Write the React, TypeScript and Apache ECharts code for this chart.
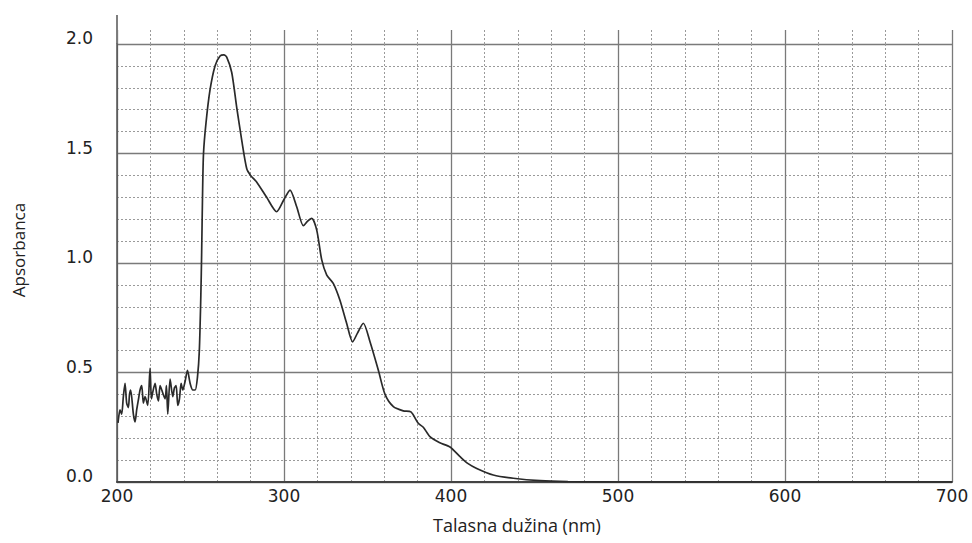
import React, { useEffect, useRef } from "react";
import * as echarts from "echarts";

const wavelengths = [
  200.6, 201.8, 202.8, 203.8, 204.8, 205.8, 206.8, 207.5, 208.2, 209.8, 210.8, 211.8, 212.8, 213.8,
  214.8, 215.8, 216.8, 218.4, 219.8, 220.6, 221.4, 222.8, 223.8, 224.8, 225.8, 226.8, 228.8, 229.6,
  230.4, 231.8, 233.4, 234.4, 235.4, 236.4, 237.4, 238.4, 239.4, 240.8, 242.2, 243.8, 245.4, 246.8,
  248.2, 249.3, 250.2, 250.7, 251.2, 251.8, 253.3, 255.7, 258.7, 261.7, 264, 265.7, 268.7, 271.7,
  274.7, 277.7, 280, 283.6, 289.6, 295.6, 300, 303.6, 307.6, 311.6, 314, 316.6, 319.6, 322.6, 325.6,
  329.5, 333.5, 337.5, 341.1, 344, 347.5, 351.5, 356.5, 360.5, 365.5, 371.4, 376, 380.4, 383.4,
  387.4, 393, 399.4, 405.4, 410, 415.4, 425.3, 437.3, 453.3, 470, 500, 600, 700,
];
const absorbance = [
  0.27, 0.33, 0.31, 0.39, 0.45, 0.36, 0.34, 0.4, 0.42, 0.31, 0.275, 0.33, 0.375, 0.42,
  0.44, 0.36, 0.39, 0.35, 0.52, 0.38, 0.41, 0.45, 0.4, 0.37, 0.44, 0.42, 0.38, 0.44,
  0.31, 0.47, 0.39, 0.43, 0.44, 0.35, 0.38, 0.45, 0.42, 0.46, 0.51, 0.45, 0.42, 0.42,
  0.48, 0.6, 0.85, 1.05, 1.3, 1.5, 1.64, 1.79, 1.9, 1.945, 1.95, 1.94, 1.87, 1.71,
  1.56, 1.43, 1.4, 1.37, 1.3, 1.234, 1.29, 1.333, 1.257, 1.17, 1.19, 1.204, 1.15, 1.014, 0.945,
  0.907, 0.83, 0.725, 0.64, 0.68, 0.725, 0.64, 0.51, 0.4, 0.344, 0.325, 0.32, 0.268, 0.25,
  0.207, 0.18, 0.16, 0.116, 0.085, 0.062, 0.032, 0.017, 0.006, 0.002, 0, 0, 0,
];

const xTitle = "Talasna dužina (nm)";
const yTitle = "Apsorbanca";

export default function App() {
  const ref = useRef<HTMLDivElement>(null);
  useEffect(() => {
    document.body.style.margin = "0";
    const chart = echarts.init(ref.current!, null, { renderer: "svg" });
    const major = { color: "#7a7a7a", width: 1.3, type: "solid" as const };
    const minor = { color: "#9a9a9a", width: 1, type: [2, 2] as any };
    const labelFont = { fontFamily: "DejaVu Sans", fontSize: 17, color: "#222" };
    chart.setOption({
      animation: false,
      backgroundColor: "#fff",
      grid: [
        { left: 117, right: 20, top: 44, bottom: 61 },
        { left: 117, right: 20, top: 30, height: 14 },
      ],
      xAxis: [
        {
          type: "value",
          gridIndex: 0,
          min: 200,
          max: 700,
          interval: 100,
          axisLine: { show: true, lineStyle: { color: "#444", width: 2 } },
          axisTick: { show: false },
          minorTick: { show: false, splitNumber: 5 },
          axisLabel: { ...labelFont, margin: 5 },
          splitLine: { show: true, lineStyle: major },
          minorSplitLine: { show: true, lineStyle: minor },
        },
        {
          type: "value",
          gridIndex: 1,
          min: 200,
          max: 700,
          interval: 100,
          axisLine: { show: false },
          axisTick: { show: false },
          axisLabel: { show: false },
          minorTick: { show: false, splitNumber: 5 },
          splitLine: { show: true, lineStyle: major },
          minorSplitLine: { show: true, lineStyle: minor },
        },
      ],
      yAxis: [
        {
          type: "value",
          gridIndex: 0,
          min: 0,
          max: 2,
          interval: 0.5,
          axisLine: { show: true, lineStyle: { color: "#555", width: 1.5 } },
          axisTick: { show: false },
          minorTick: { show: false, splitNumber: 5 },
          axisLabel: {
            ...labelFont,
            margin: 24,
            verticalAlign: "bottom",
            lineHeight: 12,
            formatter: (v: number) => v.toFixed(1),
          },
          splitLine: { show: true, lineStyle: major },
          minorSplitLine: { show: true, lineStyle: minor },
        },
        {
          type: "value",
          gridIndex: 1,
          min: 0,
          max: 1,
          show: false,
          splitLine: { show: false },
        },
      ],
      graphic: [
        {
          type: "line",
          shape: { x1: 117, y1: 15, x2: 117, y2: 44 },
          style: { stroke: "#555", lineWidth: 1.5 },
        },
        {
          type: "text",
          x: 517,
          y: 525,
          style: {
            text: xTitle,
            fontFamily: "Open Sans",
            fontSize: 18,
            fill: "#222",
            align: "center",
            verticalAlign: "middle",
          },
        },
        {
          type: "text",
          x: 18,
          y: 250,
          rotation: Math.PI / 2,
          style: {
            text: yTitle,
            fontFamily: "Open Sans",
            fontSize: 17,
            fill: "#222",
            align: "center",
            verticalAlign: "middle",
          },
        },
      ],
      series: [
        {
          type: "line",
          xAxisIndex: 0,
          yAxisIndex: 0,
          data: wavelengths.map((w, i) => [w, absorbance[i]]),
          showSymbol: false,
          smooth: 0.25,
          lineStyle: { color: "#2a2a2a", width: 1.7 },
        },
        {
          type: "line",
          xAxisIndex: 1,
          yAxisIndex: 1,
          data: [],
          showSymbol: false,
        },
      ],
    });
    return () => chart.dispose();
  }, []);
  return <div ref={ref} style={{ width: 972, height: 543 }} />;
}
